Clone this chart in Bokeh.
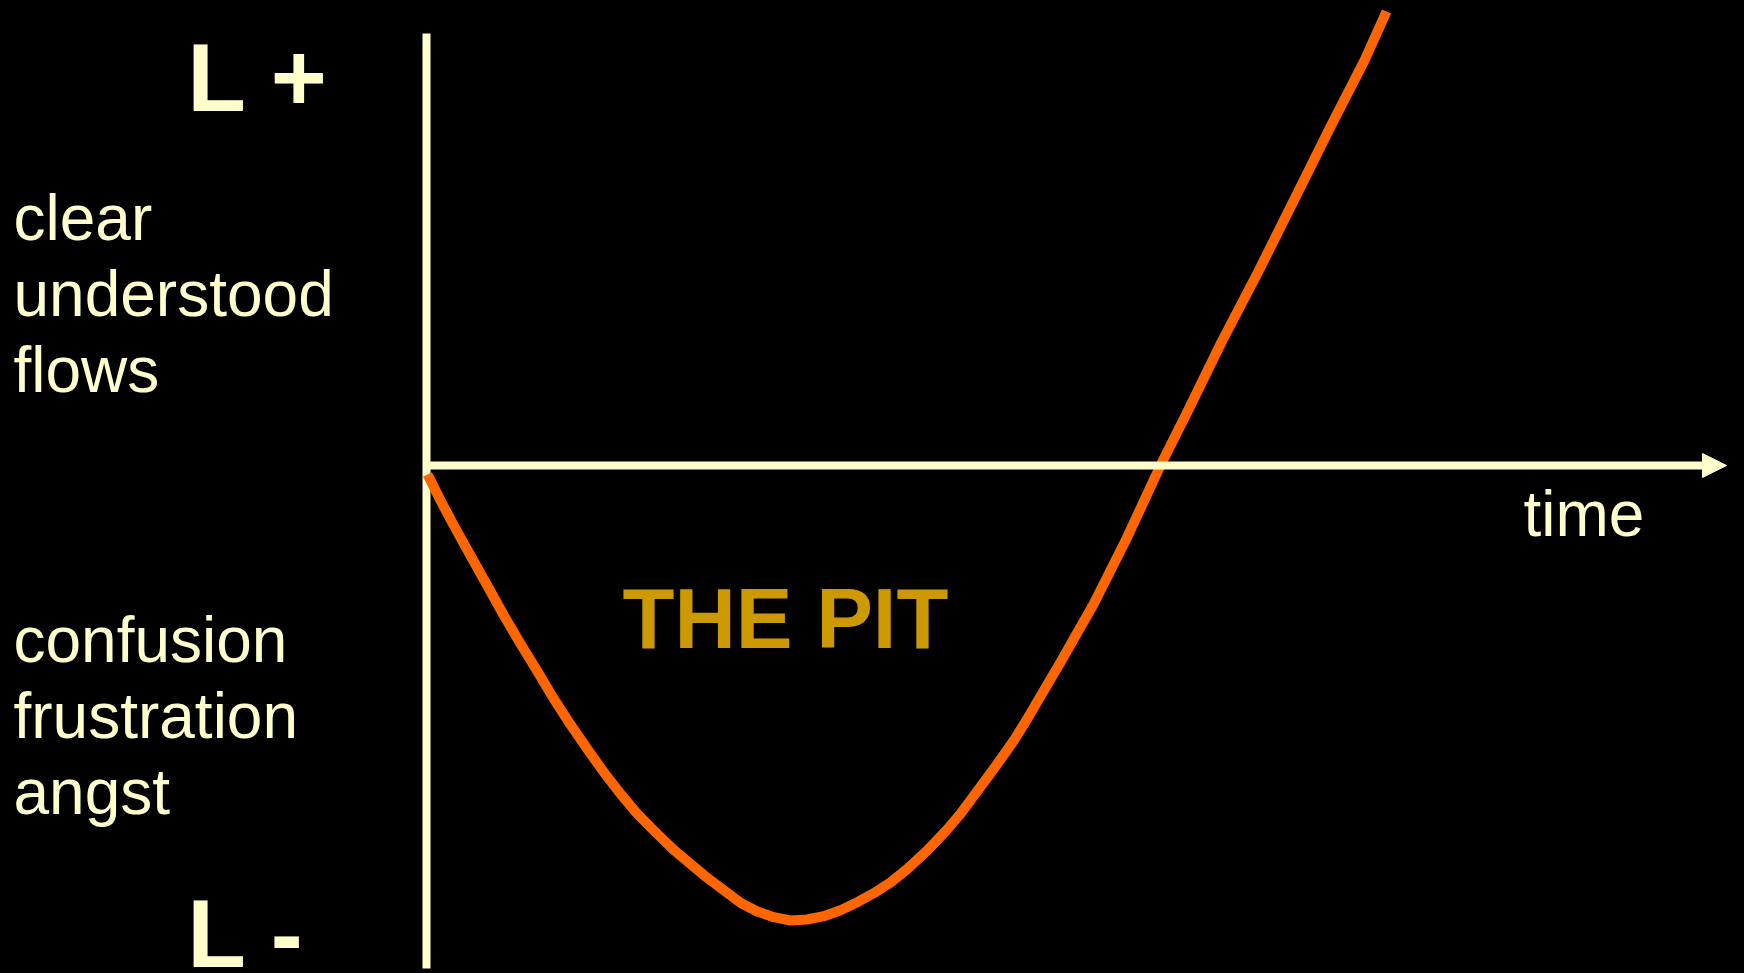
from bokeh.plotting import figure
from bokeh.models import Range1d, Arrow, NormalHead
from bokeh.core.properties import value
from bokeh.embed import file_html
from bokeh.resources import INLINE

# ---- data (time vs. learning level) ----
time_vals = [0.08, 1.08, 2.10, 3.38, 4.67, 5.95, 7.23, 8.52, 9.79, 11.08, 12.36,
             13.64, 14.92, 16.21, 17.48, 19.02, 21.59, 24.15, 25.44, 26.72, 28.0,
             29.28, 30.56, 31.85, 33.13, 34.41, 35.69, 36.98, 38.52, 40.05, 41.08,
             43.64, 45.18, 46.21, 48.77, 51.33, 53.90, 56.46, 58.44, 61.15, 63.92,
             66.69, 69.43, 72.15, 73.85]
level_vals = [-2.08, -8.10, -13.89, -20.83, -27.78, -34.72, -41.27, -47.62, -54.00,
              -60.00, -65.58, -71.00, -76.00, -80.63, -84.49, -88.96, -95.44, -101.23,
              -103.24, -104.56, -105.32, -105.09, -104.33, -102.94, -101.09, -99.00,
              -96.53, -93.40, -89.12, -84.26, -80.63, -70.21, -63.66, -58.63, -45.53,
              -32.01, -16.60, 0.0, 11.88, 28.54, 44.49, 61.16, 77.78, 93.75, 105.09]

# axes extents
time_axis_end = 100.0
level_axis_top = 100.0
level_axis_bottom = -116.44

# labels
side_labels = ["clear", "understood", "flows", "confusion", "frustration", "angst"]
side_label_x = [-31.77] * 6
side_label_y = [57.18, 39.59, 22.0, -40.5, -58.1, -75.69]

pole_labels = ["L +", "L -"]
pole_label_x = [-18.4, -18.4]
pole_label_y = [89.71, -108.44]

time_label = ["time"]
time_label_x = [84.38]
time_label_y = [-11.34]

pit_label = ["THE PIT"]
pit_label_x = [15.08]
pit_label_y = [-35.49]

CREAM = "#FFFFCC"
ORANGE = "#FF6600"
GOLD = "#CC9900"
FONT = value("Liberation Sans")

p = figure(width=1744, height=973,
           x_range=Range1d(-32.769, 101.385), y_range=Range1d(-117.593, 107.639),
           output_backend="svg", toolbar_location=None, min_border=0,
           x_axis_location=None, y_axis_location=None,
           background_fill_color="black", border_fill_color="black",
           outline_line_color=None)
p.xgrid.visible = False
p.ygrid.visible = False

# vertical axis
p.segment(x0=[0], y0=[level_axis_bottom], x1=[0], y1=[level_axis_top],
          line_width=8, line_color=CREAM)
# horizontal time axis with arrow head
p.add_layout(Arrow(x_start=0, y_start=0, x_end=time_axis_end, y_end=0,
                   line_width=8, line_color=CREAM,
                   end=NormalHead(size=24, fill_color=CREAM, line_color=CREAM, line_width=1)))

# the curve
p.line(time_vals, level_vals, line_width=10, line_color=ORANGE, line_join="round")

# texts
p.text(x=side_label_x, y=side_label_y, text=side_labels, text_font=FONT,
       text_font_size="64px", text_color=CREAM, text_baseline="alphabetic", text_align="left")
p.text(x=pole_label_x, y=pole_label_y, text=pole_labels, text_font=FONT,
       text_font_size="96px", text_font_style="bold", text_color=CREAM,
       text_baseline="alphabetic", text_align="left")
p.text(x=time_label_x, y=time_label_y, text=time_label, text_font=FONT,
       text_font_size="64px", text_color=CREAM, text_baseline="alphabetic", text_align="left")
p.text(x=pit_label_x, y=pit_label_y, text=pit_label, text_font=FONT,
       text_font_size="85px", text_font_style="bold", text_color=GOLD,
       text_baseline="alphabetic", text_align="left")

html = file_html(p, INLINE, title="The Pit")
html = html.replace("</head>", "<style>html,body{background:#000;margin:0;overflow:hidden;}</style></head>", 1)
open("out.html", "w").write(html)
